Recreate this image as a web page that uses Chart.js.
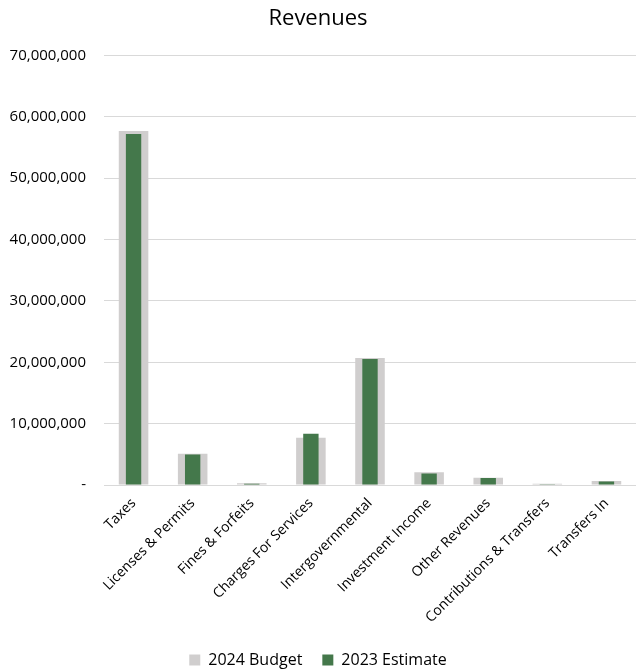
<!DOCTYPE html>
<html>
<head>
<meta charset="utf-8">
<script src="https://cdn.jsdelivr.net/npm/chart.js@4/dist/chart.umd.min.js"></script>
<style>
  html, body { margin: 0; padding: 0; background: #fff; }
  #wrap { width: 636px; height: 670px; }
</style>
</head>
<body>
<div id="wrap"><canvas id="revChart"></canvas></div>
<script>
// ---- data ----
const categories = [
  "Taxes", "Licenses & Permits", "Fines & Forfeits", "Charges For Services",
  "Intergovernmental", "Investment Income", "Other Revenues",
  "Contributions & Transfers", "Transfers In"
];
const budget2024 = [57700000, 5100000, 280000, 7700000, 20700000, 2100000, 1200000, 200000, 650000];
const estimate2023 = [57200000, 5000000, 200000, 8350000, 20550000, 1900000, 1150000, 120000, 600000];

const FONT = "'Open Sans', sans-serif";

new Chart(document.getElementById("revChart"), {
  type: "bar",
  data: {
    labels: categories,
    datasets: [
      {
        label: "2024 Budget",
        data: budget2024,
        backgroundColor: "#d0cece",
        grouped: false,
        categoryPercentage: 1,
        barPercentage: 0.5,
        order: 2
      },
      {
        label: "2023 Estimate",
        data: estimate2023,
        backgroundColor: "#44784b",
        grouped: false,
        categoryPercentage: 1,
        barPercentage: 0.26,
        order: 1
      }
    ]
  },
  options: {
    responsive: true,
    maintainAspectRatio: false,
    animation: false,
    layout: { padding: { left: 0, right: 0, top: 0, bottom: -8 } },
    plugins: {
      title: {
        display: true,
        text: "Revenues",
        color: "#000",
        font: { family: FONT, size: 22, weight: "normal" },
        padding: { top: 6, bottom: 23 }
      },
      legend: {
        position: "bottom",
        labels: {
          color: "#000",
          font: { family: FONT, size: 16 },
          boxWidth: 11,
          boxHeight: 11,
          padding: 20,
          sort: (a, b) => a.datasetIndex - b.datasetIndex
        }
      },
      tooltip: { enabled: false }
    },
    scales: {
      x: {
        grid: { display: false },
        border: { color: "#d9d9d9", width: 1 },
        ticks: {
          color: "#000",
          font: { family: FONT, size: 14 },
          minRotation: 45,
          maxRotation: 45,
          padding: 2,
          autoSkip: false
        },
        afterFit: s => { s.height += 4; }
      },
      y: {
        min: 0,
        max: 70000000,
        grid: { color: "#d9d9d9", drawTicks: false },
        border: { display: false },
        ticks: {
          stepSize: 10000000,
          color: "#000",
          font: { family: FONT, size: 15 },
          padding: 18,
          callback: v => v === 0 ? "-" : v.toLocaleString("en-US")
        },
        afterFit: s => { s.width = 104; }
      }
    }
  }
});
</script>
</body>
</html>
